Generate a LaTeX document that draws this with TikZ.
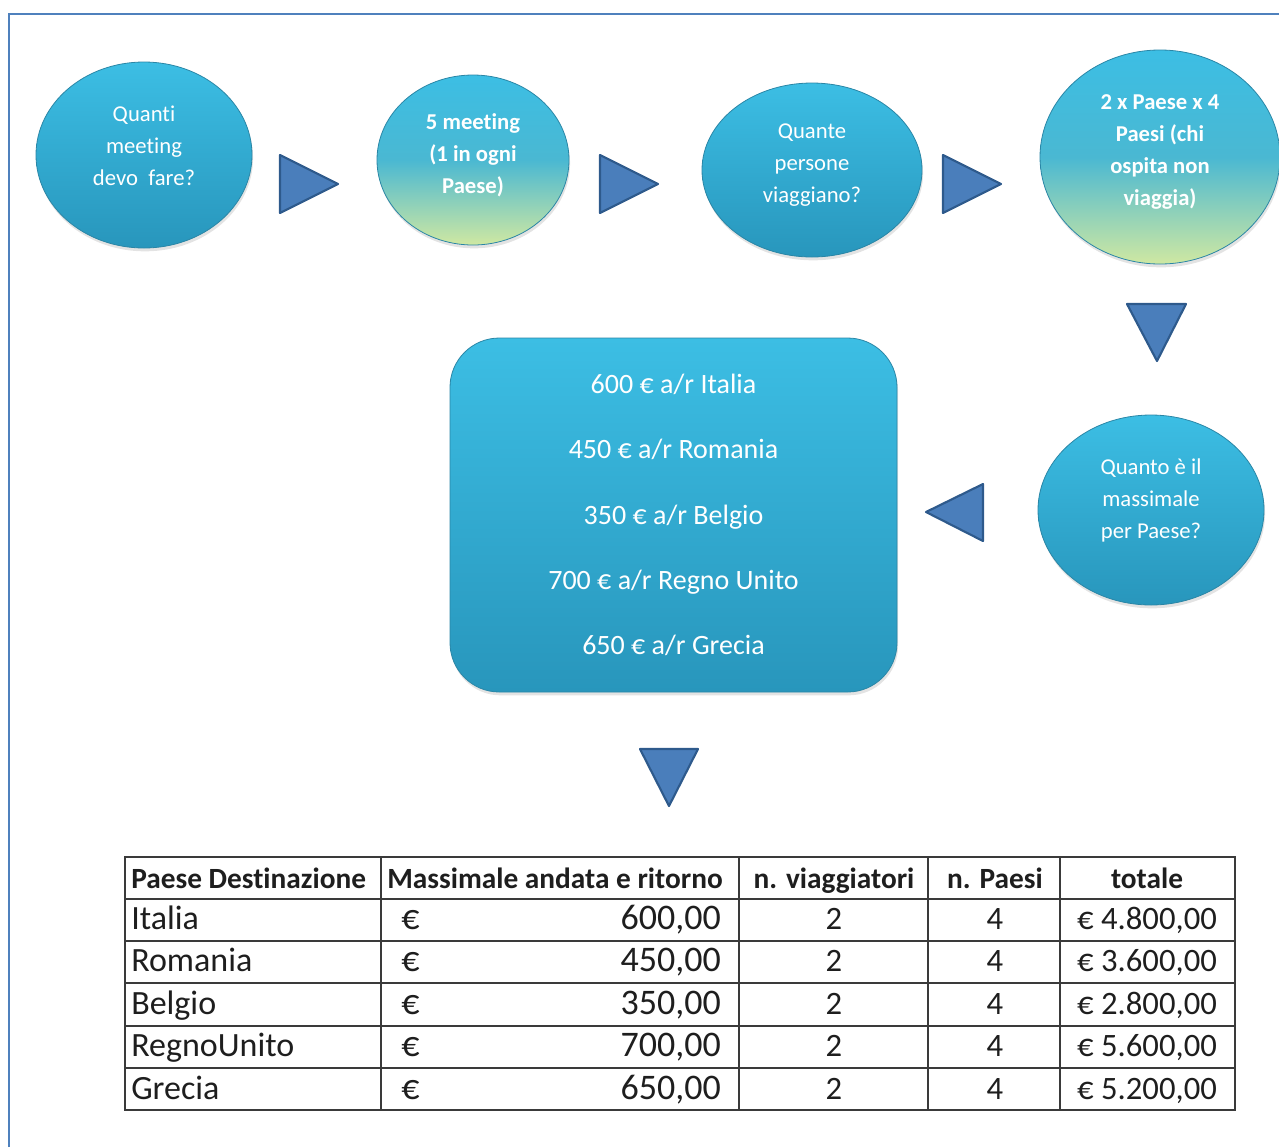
\documentclass[tikz,border=0pt]{standalone}
\usepackage{fontspec}
\setmainfont{Carlito}[Ligatures=NoCommon]
\usetikzlibrary{shapes.geometric,shadows}
\definecolor{frameblue}{HTML}{4F81BD}
\definecolor{trifill}{HTML}{4A7EBB}
\definecolor{triedge}{HTML}{2E5A8C}
\definecolor{tealtop}{HTML}{3CBEE4}
\definecolor{tealbot}{HTML}{2896BC}
\definecolor{tealmid}{HTML}{4AB8D2}
\definecolor{greenbot}{HTML}{CFE8A2}
\definecolor{edgecol}{HTML}{2A86A6}
\definecolor{tabline}{HTML}{3A3A3A}
\definecolor{tabtext}{HTML}{1E1E1E}
\newcommand{\tabrow}[5]{%
  \node[cell, font=\fontsize{25.5}{28}\selectfont, anchor=west] (r#1c1) at (131,#5) {#2};
  \node[cell, font=\fontsize{27}{30}\selectfont, anchor=west] (r#1eur) at (401,#5) {€};
  \node[cell, font=\fontsize{27}{30}\selectfont, anchor=east] (r#1c2) at (721,#5) {#3};
  \node[cell] (r#1c3) at (834,#5) {2};
  \node[cell] (r#1c4) at (995,#5) {4};
  \node[cell] (r#1c5) at (1147,#5) {€ #4};
}
\begin{document}
\begin{tikzpicture}[x=0.75pt,y=-0.75pt,
  bubble/.style={ellipse, inner sep=0pt, draw=edgecol, line width=0.6pt,
    top color=tealtop, bottom color=tealbot,
    drop shadow={opacity=0.22, shadow xshift=0.8pt, shadow yshift=-2.5pt}},
  greenbubble/.style={bubble, top color=tealtop, bottom color=greenbot, middle color=tealmid},
  btext/.style={text=white, align=center, inner sep=0pt, font=\fontsize{17}{24}\selectfont},
  bbold/.style={btext, font=\fontsize{17}{24}\selectfont\bfseries},
  tristyle/.style={fill=trifill, draw=triedge, line width=1.6pt, line join=round},
  panel/.style={rectangle, rounded corners=37pt, inner sep=0pt,
    minimum width=447*0.75pt, minimum height=354*0.75pt,
    top color=tealtop, bottom color=tealbot, draw=edgecol, line width=0.6pt,
    drop shadow={opacity=0.22, shadow xshift=0.8pt, shadow yshift=-2.5pt},
    text=white, align=center, font=\fontsize{21}{49}\selectfont},
  head/.style={text=tabtext, inner sep=0pt, text height=0.68em, text depth=0.2em, font=\fontsize{22}{24}\selectfont\bfseries},
  cell/.style={text=tabtext, inner sep=0pt, text height=0.68em, text depth=0.2em, font=\fontsize{24.5}{28}\selectfont},
  tline/.style={draw=tabline, line width=1pt}
]
\useasboundingbox (0,0) rectangle (1279,1147);
% frame
\draw[frameblue, line width=1.6pt] (9,1147) -- (9,14) -- (1279,14);

% bubbles
\node[bubble, minimum width=216*0.75pt, minimum height=186*0.75pt] (e1) at (144,155) {};
\node[btext] (t1) at (144,146) {Quanti\\meeting\\devo\ \ fare?};

\node[greenbubble, minimum width=192*0.75pt, minimum height=170*0.75pt] (e2) at (473,160) {};
\node[bbold] (t2) at (473,155) {5 meeting\\(1 in ogni\\Paese)};

\node[bubble, minimum width=220*0.75pt, minimum height=174*0.75pt] (e3) at (812,170) {};
\node[btext] (t3) at (812,165) {Quante\\persone\\viaggiano?};

\node[greenbubble, minimum width=240*0.75pt, minimum height=214*0.75pt] (e4) at (1160,157) {};
\node[bbold] (t4) at (1160,152) {2 x Paese x 4\\Paesi (chi\\ospita non\\viaggia)};

\node[bubble, minimum width=226*0.75pt, minimum height=190*0.75pt] (e5) at (1151,510) {};
\node[btext] (t5) at (1151,500) {Quanto è il\\massimale\\per Paese?};

% price panel
\node[panel] (prices) at (673.5,515) {600 € a/r Italia\\450 € a/r Romania\\350 € a/r Belgio\\700 € a/r Regno Unito\\650 € a/r Grecia};

% triangle arrows
\coordinate (a1) at (280,155);
\draw[tristyle] (a1) -- (338,184) -- (280,213) -- cycle;
\coordinate (a2) at (600,155);
\draw[tristyle] (a2) -- (658,184) -- (600,213) -- cycle;
\coordinate (a3) at (943,155);
\draw[tristyle] (a3) -- (1001,184) -- (943,213) -- cycle;
\coordinate (a4) at (1127,304);
\draw[tristyle] (a4) -- (1186,304) -- (1157,361) -- cycle;
\coordinate (a5) at (983,484);
\draw[tristyle] (a5) -- (983,541) -- (926,512) -- cycle;
\coordinate (a6) at (640,749);
\draw[tristyle] (a6) -- (698,749) -- (669,806) -- cycle;

% table grid
\draw[tline] (125,857) rectangle (1235,1110);
\foreach \yy in {899,941,983,1026,1068} \draw[tline] (125,\yy) -- (1235,\yy);
\foreach \xx in {381,739,928,1060} \draw[tline] (\xx,857) -- (\xx,1110);

% header
\node[head, anchor=west] (h1) at (131,885) {Paese Destinazione};
\node[head, anchor=west] (h2) at (387,885) {Massimale andata e ritorno};
\node[head] (h3) at (834,885) {n. viaggiatori};
\node[head] (h4) at (995,885) {n. Paesi};
\node[head] (h5) at (1147,885) {totale};

% rows
\tabrow{1}{Italia}{600,00}{4.800,00}{926}
\tabrow{2}{Romania}{450,00}{3.600,00}{968}
\tabrow{3}{Belgio}{350,00}{2.800,00}{1011}
\tabrow{4}{RegnoUnito}{700,00}{5.600,00}{1053}
\tabrow{5}{Grecia}{650,00}{5.200,00}{1096}
\end{tikzpicture}
\end{document}
